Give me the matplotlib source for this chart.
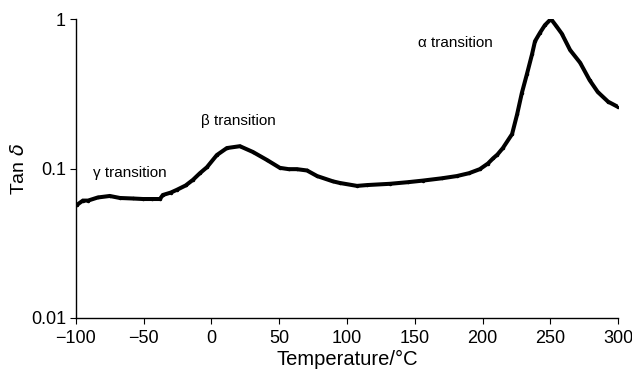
import matplotlib
matplotlib.use("Agg")
import matplotlib.pyplot as plt
from matplotlib.ticker import FixedLocator, NullLocator

plt.rcParams['font.family'] = ['Liberation Sans', 'DejaVu Sans']

# Tan delta vs temperature
temp = [-99.3, -94.8, -91, -83.8, -75, -67.5, -58, -50.5, -44, -38, -35.8,
        -30, -25.5, -19, -13.6, -8.5, -3.3, 4, 11.4, 21, 30.6, 41, 50.5,
        57, 63, 70.5, 78, 89.7, 94.8, 107.4, 115, 131.7, 145, 156, 170, 181,
        190, 198, 204, 207.8, 211, 215, 221.8, 225.5, 229, 232.8, 236.5,
        238.7, 242.4, 246, 250.5, 254.3, 258.4, 264.6, 272, 279, 285, 292.6, 300]
tan_d = [0.057, 0.061, 0.061, 0.064, 0.0655, 0.0635, 0.063, 0.0625, 0.0625,
         0.0625, 0.0665, 0.069, 0.072, 0.077, 0.084, 0.093, 0.102, 0.123,
         0.137, 0.141, 0.129, 0.114, 0.101, 0.099, 0.099, 0.097, 0.089,
         0.082, 0.080, 0.0765, 0.0775, 0.079, 0.081, 0.083, 0.086, 0.089,
         0.093, 0.099, 0.108, 0.117, 0.124, 0.137, 0.170, 0.230, 0.32, 0.43,
         0.58, 0.71, 0.81, 0.91, 1.0, 0.90, 0.80, 0.62, 0.51, 0.39, 0.325,
         0.28, 0.258]

x_ticks = [-100, -50, 0, 50, 100, 150, 200, 250, 300]
x_tick_labels = ['\u2212100', '\u221250', '0', '50', '100', '150', '200', '250', '300']
y_ticks = [0.01, 0.1, 1]
y_tick_labels = ['0.01', '0.1', '1']

labels = ['\u03b3 transition', '\u03b2 transition', '\u03b1 transition']
label_x = [-60, 19.6, 180]
label_y = [0.093, 0.209, 0.69]

fig = plt.figure(figsize=(6.32, 3.73), dpi=100)
ax = fig.add_axes([0.120, 0.1475, 0.858, 0.8015])

ax.plot(temp, tan_d, color='black', linewidth=2.9, marker='.', markersize=3,
        solid_joinstyle='miter')

ax.set_yscale('log')
ax.set_xlim(-100, 300)
ax.set_ylim(0.01, 1)

ax.xaxis.set_major_locator(FixedLocator(x_ticks))
ax.set_xticklabels(x_tick_labels)
ax.yaxis.set_major_locator(FixedLocator(y_ticks))
ax.yaxis.set_minor_locator(NullLocator())
ax.set_yticklabels(y_tick_labels)
ax.tick_params(labelsize=13, length=4, width=0.8, direction='out')
ax.tick_params(axis='x', pad=5)
ax.tick_params(axis='y', pad=3)

ax.spines['top'].set_visible(False)
ax.spines['right'].set_visible(False)
ax.spines['left'].set_linewidth(1.0)
ax.spines['bottom'].set_linewidth(1.0)

ax.set_xlabel('Temperature/\u00b0C', fontsize=14.5, labelpad=2)
ax.set_ylabel('Tan $\\delta$', fontsize=14, labelpad=2)

for t, lx, ly in zip(labels, label_x, label_y):
    ax.text(lx, ly, t, fontsize=11, ha='center', va='center')

fig.savefig('out.png', dpi=100)
